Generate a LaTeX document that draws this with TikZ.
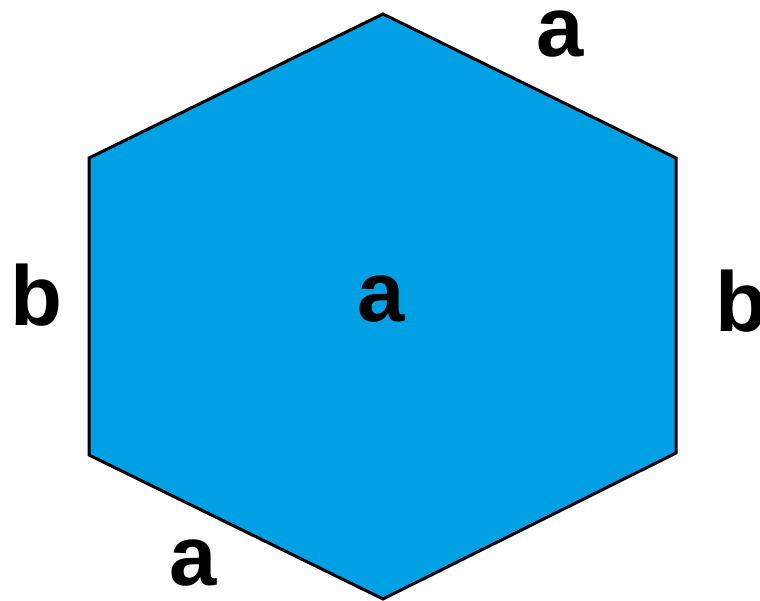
\documentclass[tikz,border=0pt]{standalone}
\usepackage{fontspec}
\setmainfont{Liberation Sans}
\begin{document}
\begin{tikzpicture}[x=1pt,y=-1pt,
  lbl/.style={anchor=base,inner sep=0pt,font=\fontsize{85}{85}\selectfont\bfseries}]
\useasboundingbox (0,0) rectangle (760,601);
\coordinate (t) at (383,14);
\coordinate (ur) at (676,158);
\coordinate (lr) at (676,453);
\coordinate (bt) at (383,599);
\coordinate (ll) at (89,455);
\coordinate (ul) at (89,158);
\draw[line width=3pt,fill={rgb,255:red,0;green,160;blue,228},line join=miter] (t) -- (ur) -- (lr) -- (bt) -- (ll) -- (ul) -- cycle;
\node[lbl] (atop) at (560,57) {a};
\node[lbl] (acen) at (381,322) {a};
\node[lbl] (bl) at (36,326) {b};
\node[lbl] (br) at (741,332) {b};
\node[lbl] (abot) at (193,585) {a};
\end{tikzpicture}
\end{document}
